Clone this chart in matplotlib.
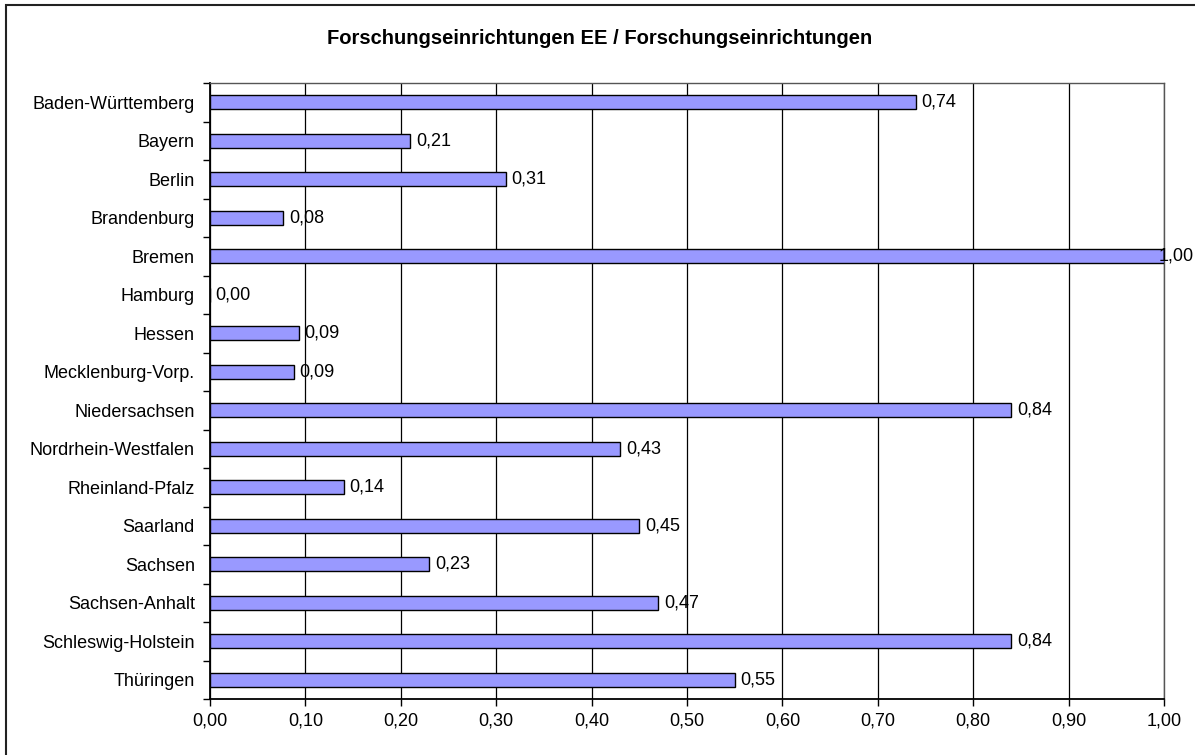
import matplotlib
matplotlib.use('Agg')
import matplotlib.pyplot as plt
from matplotlib.patches import Rectangle
from matplotlib.ticker import FuncFormatter

plt.rcParams['font.family'] = ['Liberation Sans', 'DejaVu Sans']

# Share of research institutions working on renewable energy, per state
states = ['Baden-Württemberg', 'Bayern', 'Berlin', 'Brandenburg', 'Bremen',
          'Hamburg', 'Hessen', 'Mecklenburg-Vorp.', 'Niedersachsen',
          'Nordrhein-Westfalen', 'Rheinland-Pfalz', 'Saarland', 'Sachsen',
          'Sachsen-Anhalt', 'Schleswig-Holstein', 'Thüringen']
shares = [0.74, 0.21, 0.31, 0.077, 1.00, 0.00, 0.093, 0.088, 0.84,
          0.43, 0.14, 0.45, 0.23, 0.47, 0.84, 0.55]
x_ticks = [0.0, 0.1, 0.2, 0.3, 0.4, 0.5, 0.6, 0.7, 0.8, 0.9, 1.0]

W, H = 1195, 755
fig = plt.figure(figsize=(W / 100, H / 100), dpi=100)
fig.patch.set_facecolor('white')

# outer chart border
fig.patches.append(Rectangle((6 / W, -0.05), 1.1, (H - 5) / H + 0.05,
                             transform=fig.transFigure, fill=False,
                             edgecolor='#222222', linewidth=1.5))

ax = fig.add_axes([210 / W, (H - 699) / H, 954 / W, 616 / H])

pos = list(range(len(states)))
ax.barh(pos, shares, height=0.37, color='#9999FF', edgecolor='black',
        linewidth=1.0, zorder=3)

def comma(v, _=None):
    return f'{v:.2f}'.replace('.', ',')

labels = []
for y, v in zip(pos, shares):
    t = ax.annotate(comma(v), (v, y), xytext=(4, 0), textcoords='offset points',
                    va='center', ha='left', fontsize=13, zorder=4,
                    annotation_clip=False)
    labels.append(t)

ax.set_xlim(0, 1.0)
ax.set_ylim(len(states) - 0.5, -0.5)
ax.set_xticks(x_ticks)
ax.xaxis.set_major_formatter(FuncFormatter(comma))
ax.set_yticks(pos)
ax.set_yticklabels(states)
ax.set_yticks([p + 0.5 for p in range(-1, len(states))], minor=True)
ax.tick_params(axis='y', which='major', length=0, pad=11, labelsize=13)
ax.tick_params(axis='y', which='minor', length=5, width=1, direction='out')
ax.tick_params(axis='x', length=5, width=1, direction='out', pad=5,
               labelsize=13)

ax.grid(axis='x', color='black', linewidth=0.9, zorder=0)
ax.set_axisbelow(True)
for side in ['left', 'bottom']:
    ax.spines[side].set_color('black')
    ax.spines[side].set_linewidth(1.3)
for side in ['top', 'right']:
    ax.spines[side].set_color('#555555')
    ax.spines[side].set_linewidth(1.0)

fig.text(600 / W, 1 - 39 / H,
         'Forschungseinrichtungen EE / Forschungseinrichtungen',
         ha='center', va='center', fontsize=14.5, fontweight='bold')

# keep value labels inside the chart: shift any that run past the right edge
fig.canvas.draw()
renderer = fig.canvas.get_renderer()
for t in labels:
    bb = t.get_window_extent(renderer)
    if bb.x1 > W - 1:
        t.set_position((4 - (bb.x1 - (W - 1)) * 72 / 100, 0))

fig.savefig('out.png', dpi=100)
